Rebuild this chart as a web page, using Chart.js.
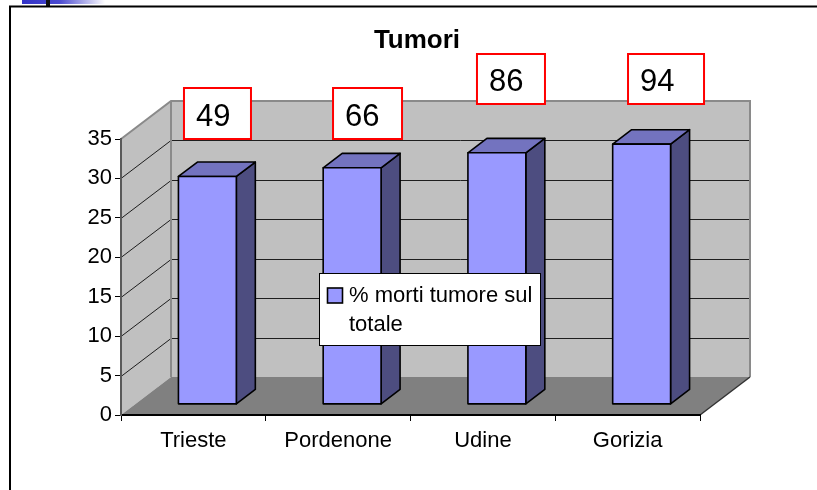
<!DOCTYPE html>
<html><head><meta charset="utf-8">
<script src="https://cdn.jsdelivr.net/npm/chart.js@4"></script>
<style>html,body{margin:0;padding:0;background:#fff;overflow:hidden}canvas{display:block}</style>
</head><body>
<canvas id="c" width="817" height="490"></canvas>
<script>
// ---- data ----
const categories = ['Trieste', 'Pordenone', 'Udine', 'Gorizia'];
const tumorPercent = [28.9, 30.0, 31.9, 33.0];
const deathCounts = [49, 66, 86, 94];
const seriesLabel = '% morti tumore sul totale';
const legendLines = ['% morti tumore sul', 'totale'];
const chartTitle = 'Tumori';
const yMin = 0, yMax = 35, yStep = 5;

// ---- layout / style ----
const FONT = '"Liberation Sans", Arial, sans-serif';
const DEPTH = {x: 50, y: -38};
const BAR_FRONT = 0.28, BAR_BACK = 0.66;
const COL = {
  wall: '#c0c0c0', floor: '#808080', edge: '#8a8a8a', grid: '#1e1e1e',
  front: '#9999ff', top: '#7373bf', side: '#4d4d80'
};
const boxLayout = [
  {dx: -9.4, top: 88, w: 67, h: 51},
  {dx: -5.1, top: 88, w: 69, h: 51},
  {dx: -5.9, top: 54, w: 68, h: 50},
  {dx: 0.4, top: 54, w: 76, h: 50}
];
const legendBox = {x: 319.5, y: 273.5, w: 221, h: 72};

const threeD = {
  id: 'threeD',
  beforeDraw(chart) {
    const ctx = chart.ctx, a = chart.chartArea, ys = chart.scales.y;
    ctx.save();
    ctx.fillStyle = '#fff';
    ctx.fillRect(0, 0, chart.width, chart.height);
    // slide decoration
    const g = ctx.createLinearGradient(22, 0, 105, 0);
    g.addColorStop(0, '#3232c8'); g.addColorStop(0.45, '#4a4ad0'); g.addColorStop(1, 'rgba(255,255,255,1)');
    ctx.fillStyle = g; ctx.fillRect(22, 0, 85, 4);
    ctx.fillStyle = '#111'; ctx.fillRect(46, 0, 4, 7);
    // outer frame
    ctx.strokeStyle = '#000'; ctx.lineWidth = 2;
    ctx.beginPath(); ctx.moveTo(10, 495); ctx.lineTo(10, 6.5); ctx.lineTo(825, 6.5); ctx.stroke();

    const L = a.left, R = a.right, T = ys.getPixelForValue(yMax), B = ys.getPixelForValue(yMin);
    const dx = DEPTH.x, dy = DEPTH.y;
    // back wall
    ctx.fillStyle = COL.wall;
    ctx.fillRect(L + dx, T + dy, R - L, B - T);
    // side wall
    ctx.beginPath(); ctx.moveTo(L, T); ctx.lineTo(L + dx, T + dy); ctx.lineTo(L + dx, B + dy); ctx.lineTo(L, B); ctx.closePath(); ctx.fill();
    // floor
    ctx.fillStyle = COL.floor;
    ctx.beginPath(); ctx.moveTo(L, B); ctx.lineTo(R, B); ctx.lineTo(R + dx, B + dy); ctx.lineTo(L + dx, B + dy); ctx.closePath(); ctx.fill();
    // gridlines
    ctx.strokeStyle = COL.grid; ctx.lineWidth = 1;
    ys.ticks.forEach(t => {
      if (t.value <= yMin || t.value >= yMax) return;
      const y = Math.round(ys.getPixelForValue(t.value)) + 0.5;
      ctx.beginPath(); ctx.moveTo(L + dx, y + dy); ctx.lineTo(R + dx, y + dy); ctx.stroke();
      ctx.beginPath(); ctx.moveTo(L, y); ctx.lineTo(L + dx, y + dy); ctx.stroke();
    });
    // wall edges
    ctx.strokeStyle = COL.edge; ctx.lineWidth = 2;
    ctx.beginPath(); ctx.moveTo(L, T); ctx.lineTo(L + dx, T + dy); ctx.lineTo(R + dx, T + dy); ctx.lineTo(R + dx, B + dy); ctx.stroke();
    ctx.beginPath(); ctx.moveTo(L + dx, T + dy); ctx.lineTo(L + dx, B + dy); ctx.stroke();
    ctx.strokeStyle = '#333'; ctx.lineWidth = 1.5;
    ctx.beginPath(); ctx.moveTo(R, B); ctx.lineTo(R + dx, B + dy); ctx.stroke();
    ctx.restore();
  },
  beforeDatasetDraw() { return false; },
  afterDatasetsDraw(chart) {
    const ctx = chart.ctx;
    const fx = DEPTH.x * BAR_FRONT, fy = DEPTH.y * BAR_FRONT;
    const ddx = DEPTH.x * (BAR_BACK - BAR_FRONT), ddy = DEPTH.y * (BAR_BACK - BAR_FRONT);
    ctx.save();
    ctx.lineWidth = 1.6; ctx.strokeStyle = '#000'; ctx.lineJoin = 'round';
    chart.getDatasetMeta(0).data.forEach(el => {
      const p = el.getProps(['x', 'y', 'base', 'width'], true);
      const l = p.x - p.width / 2 + fx, r = p.x + p.width / 2 + fx;
      const t = p.y + fy, b = p.base + fy;
      // side
      ctx.fillStyle = COL.side;
      ctx.beginPath(); ctx.moveTo(r, t); ctx.lineTo(r + ddx, t + ddy); ctx.lineTo(r + ddx, b + ddy); ctx.lineTo(r, b); ctx.closePath(); ctx.fill(); ctx.stroke();
      // top
      ctx.fillStyle = COL.top;
      ctx.beginPath(); ctx.moveTo(l, t); ctx.lineTo(l + ddx, t + ddy); ctx.lineTo(r + ddx, t + ddy); ctx.lineTo(r, t); ctx.closePath(); ctx.fill(); ctx.stroke();
      // front
      ctx.fillStyle = COL.front;
      ctx.beginPath(); ctx.rect(l, t, r - l, b - t); ctx.fill(); ctx.stroke();
    });
    ctx.restore();
  },
  afterDraw(chart) {
    const ctx = chart.ctx, xs = chart.scales.x;
    ctx.save();
    // legend
    const lb = legendBox;
    ctx.fillStyle = '#fff'; ctx.fillRect(lb.x, lb.y, lb.w, lb.h);
    ctx.strokeStyle = '#000'; ctx.lineWidth = 1; ctx.strokeRect(lb.x, lb.y, lb.w, lb.h);
    ctx.fillStyle = chart.data.datasets[0].backgroundColor;
    ctx.fillRect(lb.x + 8, lb.y + 14.5, 15, 15);
    ctx.lineWidth = 1.6; ctx.strokeRect(lb.x + 8, lb.y + 14.5, 15, 15);
    ctx.fillStyle = '#000'; ctx.font = '22px ' + FONT; ctx.textBaseline = 'alphabetic'; ctx.textAlign = 'left';
    ctx.fillText(legendLines[0], lb.x + 29.5, lb.y + 28);
    ctx.fillText(legendLines[1], lb.x + 29.5, lb.y + 57);
    // red boxes with counts
    ctx.font = '31px ' + FONT;
    deathCounts.forEach((n, i) => {
      const bl = boxLayout[i];
      const x = xs.getPixelForValue(i) + bl.dx;
      ctx.fillStyle = '#fff'; ctx.fillRect(x, bl.top, bl.w, bl.h);
      ctx.strokeStyle = '#ff0000'; ctx.lineWidth = 2; ctx.strokeRect(x, bl.top, bl.w, bl.h);
      ctx.fillStyle = '#000'; ctx.textBaseline = 'alphabetic';
      ctx.fillText(String(n), x + 12, bl.top + bl.h / 2 + 12);
    });
    // title
    ctx.font = 'bold 26px ' + FONT; ctx.textAlign = 'center'; ctx.fillStyle = '#000';
    ctx.fillText(chartTitle, 417, 48);
    ctx.restore();
  }
};

new Chart(document.getElementById('c'), {
  type: 'bar',
  data: {
    labels: categories,
    datasets: [{
      label: seriesLabel,
      data: tumorPercent,
      backgroundColor: COL.front,
      borderColor: '#000',
      barPercentage: 0.4,
      categoryPercentage: 1
    }]
  },
  options: {
    responsive: false,
    animation: false,
    devicePixelRatio: 1,
    layout: {padding: {top: 139, right: 117, left: 0, bottom: 0}},
    plugins: {legend: {display: false}, title: {display: false}, tooltip: {enabled: false}},
    scales: {
      x: {
        afterFit(s) { s.height = 75; },
        grid: {display: true, drawOnChartArea: false, drawTicks: true, tickLength: 6, tickColor: '#000', offset: true},
        border: {display: true, color: '#000', width: 2},
        ticks: {color: '#000', font: {family: FONT, size: 22}, padding: 7, maxRotation: 0}
      },
      y: {
        min: yMin, max: yMax,
        afterFit(s) { s.width = 121; },
        grid: {display: true, drawOnChartArea: false, drawTicks: true, tickLength: 6, tickColor: '#000'},
        border: {display: true, color: '#5a5a5a', width: 2},
        ticks: {stepSize: yStep, color: '#000', font: {family: FONT, size: 22}, padding: 3}
      }
    }
  },
  plugins: [threeD]
});
</script>
</body></html>
